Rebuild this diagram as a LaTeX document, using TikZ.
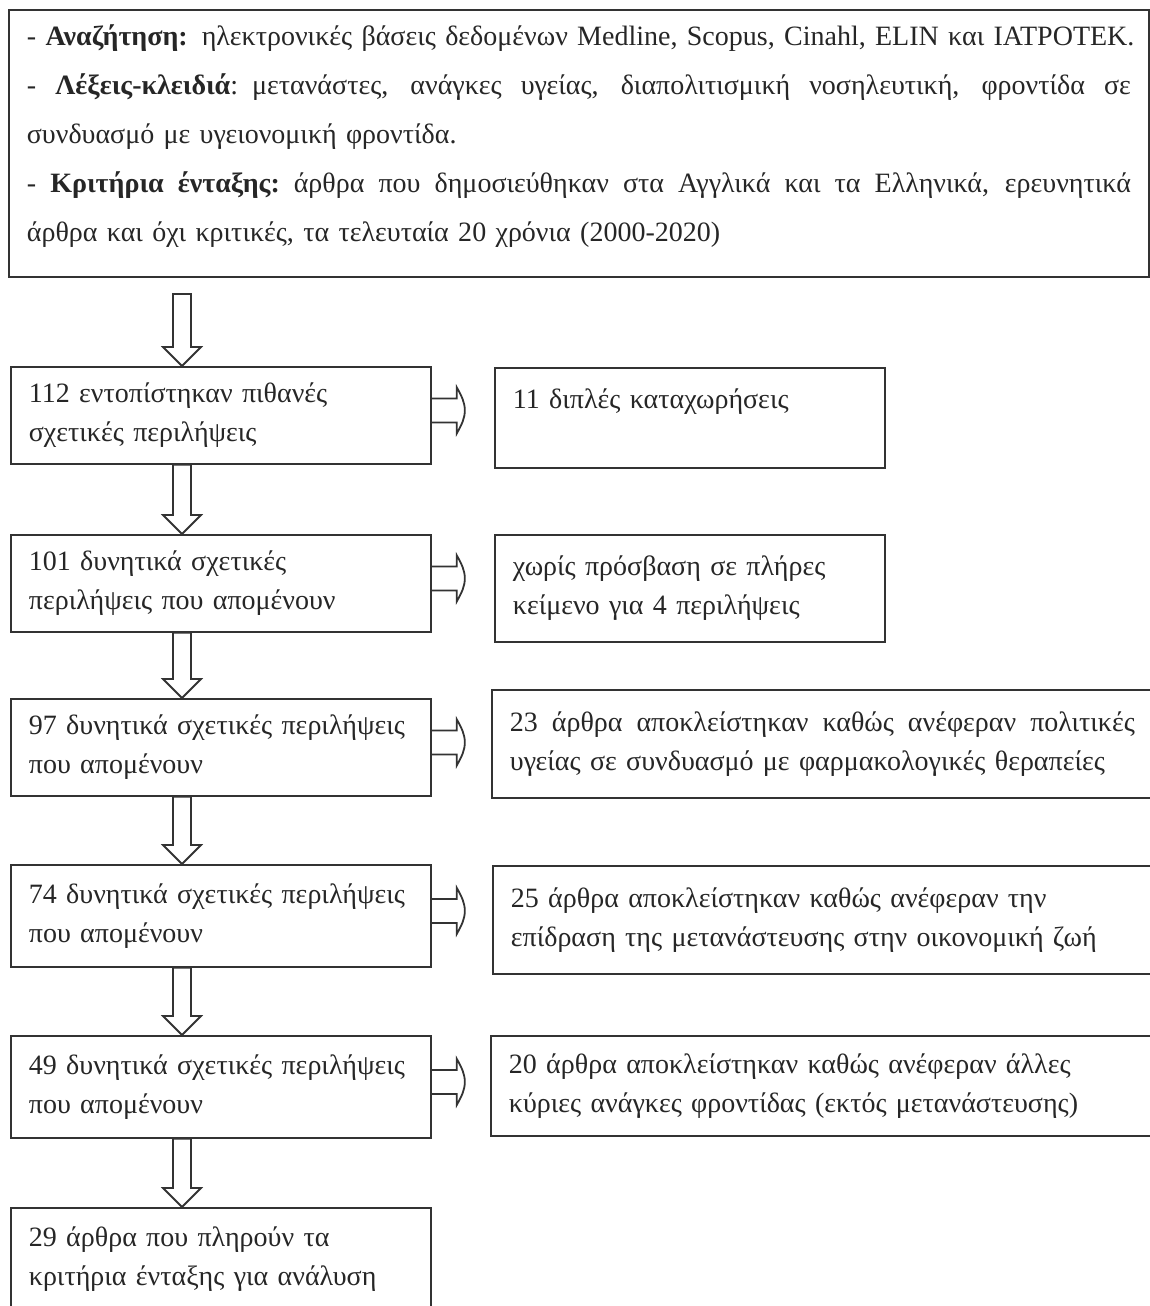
\documentclass[tikz,border=0pt]{standalone}
\usepackage{fontspec}
\setmainfont{Liberation Serif}
\usepackage{tikz}
\usetikzlibrary{calc}

\tikzset{
  box/.style={draw=black!80, line width=0.9pt, rectangle, anchor=north west,
    align=left, inner xsep=9pt, inner ysep=0pt, text=black!85,
    font=\fontsize{14}{19.5}\selectfont},
  leftbox/.style={box, text width=192pt},
  rightbox/.style={box, text width=177pt},
  widebox/.style={box, text width=318pt},
  hollow/.style={draw=black!80, line width=0.9pt}
}

\newcommand{\fullline}[2]{\makebox[#1][s]{\spaceskip=3.5pt plus 20pt minus 0.5pt #2}}

\newcommand{\downblock}[2]{%
  \draw[hollow] let \p1=(#1), \p2=(#2) in
    (\x1-4.5pt,\y1) -- (\x1-4.5pt,\y2+9.5pt) -- (\x1-9.5pt,\y2+9.5pt) -- (\x1,\y2)
    -- (\x1+9.5pt,\y2+9.5pt) -- (\x1+4.5pt,\y2+9.5pt) -- (\x1+4.5pt,\y1) -- cycle;}

\newcommand{\rightblock}[1]{%
  \draw[hollow] let \p1=([yshift=2.5pt]#1.east) in
    (\x1,\y1+6pt) -- (\x1+12.5pt,\y1+6pt) -- (\x1+12.5pt,\y1+11.5pt)
    .. controls (\x1+15pt,\y1+7pt) and (\x1+16.5pt,\y1+4pt) .. (\x1+16.5pt,\y1)
    .. controls (\x1+16.5pt,\y1-4pt) and (\x1+15pt,\y1-7pt) .. (\x1+12.5pt,\y1-11.5pt)
    -- (\x1+12.5pt,\y1-6pt) -- (\x1,\y1-6pt);}

\begin{document}
\begin{tikzpicture}[x=0.5pt, y=-0.5pt]
\useasboundingbox (0,0) rectangle (1150,1306);

\node[box,
   text width=552pt,
   minimum height=133.5pt,
   font=\fontsize{14}{24.5}\selectfont] (S) at (8,9)
  {\mbox{- \textbf{Αναζήτηση:} ηλεκτρονικές βάσεις δεδομένων Medline, Scopus, Cinahl, ELIN και ΙΑΤΡΟΤΕΚ.}\\
   \fullline{552pt}{- \textbf{Λέξεις-κλειδιά}: μετανάστες, ανάγκες υγείας, διαπολιτισμική νοσηλευτική, φροντίδα σε}\\
   συνδυασμό με υγειονομική φροντίδα.\\
   \fullline{552pt}{- \textbf{Κριτήρια ένταξης:} άρθρα που δημοσιεύθηκαν στα Αγγλικά και τα Ελληνικά, ερευνητικά}\\
   άρθρα και όχι κριτικές, τα τελευταία 20 χρόνια (2000-2020)\rule[-10pt]{0pt}{10pt}};

\node[leftbox, minimum height=48.5pt] (A1) at (10,366)
  {112 εντοπίστηκαν πιθανές\\σχετικές περιλήψεις};
\node[leftbox, minimum height=48.5pt] (A2) at (10,534)
  {101 δυνητικά σχετικές\\περιλήψεις που απομένουν};
\node[leftbox, minimum height=48.5pt] (A3) at (10,698)
  {97 δυνητικά σχετικές περιλήψεις\\που απομένουν};
\node[leftbox, minimum height=51pt] (A4) at (10,864)
  {74 δυνητικά σχετικές περιλήψεις\\που απομένουν};
\node[leftbox, minimum height=51pt] (A5) at (10,1035)
  {49 δυνητικά σχετικές περιλήψεις\\που απομένουν};
\node[leftbox, minimum height=51pt] (A6) at (10,1207)
  {29 άρθρα που πληρούν τα\\κριτήρια ένταξης για ανάλυση};

\node[rightbox, minimum height=50pt] (B1) at (494,367)
  {11 διπλές καταχωρήσεις\\\mbox{}};
\node[rightbox, minimum height=53.5pt] (B2) at (494,534)
  {χωρίς πρόσβαση σε πλήρες\\κείμενο για 4 περιλήψεις};
\node[widebox, minimum height=54pt] (B3) at (491,689)
  {\fullline{312.5pt}{23 άρθρα αποκλείστηκαν καθώς ανέφεραν πολιτικές}\\υγείας σε συνδυασμό με φαρμακολογικές θεραπείες};
\node[widebox, minimum height=54pt] (B4) at (492,865)
  {25 άρθρα αποκλείστηκαν καθώς ανέφεραν την\\επίδραση της μετανάστευσης στην οικονομική ζωή};
\node[widebox, minimum height=50pt] (B5) at (490,1035)
  {20 άρθρα αποκλείστηκαν καθώς ανέφεραν άλλες\\κύριες ανάγκες φροντίδας (εκτός μετανάστευσης)};

\coordinate (ax) at (182,294);
\downblock{ax}{A1.north -| ax}
\downblock{A1.south -| ax}{A2.north -| ax}
\downblock{A2.south -| ax}{A3.north -| ax}
\downblock{A3.south -| ax}{A4.north -| ax}
\downblock{A4.south -| ax}{A5.north -| ax}
\downblock{A5.south -| ax}{A6.north -| ax}

\rightblock{A1}
\rightblock{A2}
\rightblock{A3}
\rightblock{A4}
\rightblock{A5}
\end{tikzpicture}
\end{document}
